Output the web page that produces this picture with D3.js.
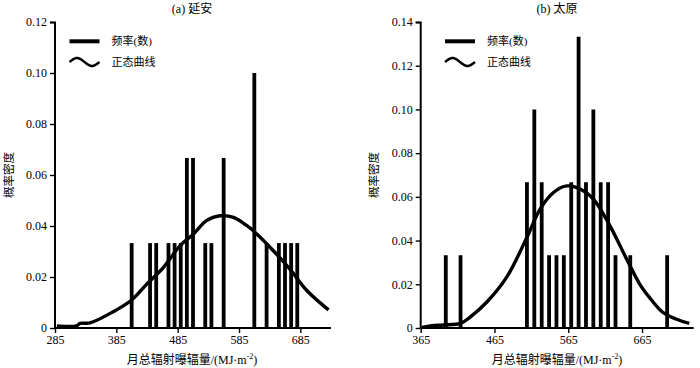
<!DOCTYPE html>
<html><head><meta charset="utf-8">
<script src="https://cdn.jsdelivr.net/npm/d3@7"></script>
<style>
body{margin:0;background:#fff;}
text{font-family:"Liberation Serif","Noto Sans CJK SC",serif;fill:#000;}
</style></head>
<body><svg id="c" width="700" height="368"></svg>
<script>
// ---- data ----
const titles = ["(a) 延安", "(b) 太原"];
const yLabel = "概率密度";
const legendLabels = ["频率(数)", "正态曲线"];

const aBarX = [410,440,450,470,480,490,500,510,530,540,560,610,630,650,660,670,680];
const aBarY = [0.0333,0.0333,0.0333,0.0333,0.0333,0.0333,0.0667,0.0667,0.0333,0.0333,0.0667,0.1,0.0333,0.0333,0.0333,0.0333,0.0333];
const aCurveX = [288,320,326,342,380,410,435,462,489,511,532,554,576,598,614,641,668,696,731];
const aCurveY = [0.0008,0.0008,0.0018,0.0020,0.0064,0.011,0.0173,0.0238,0.0323,0.0369,0.0421,0.044,0.0434,0.0401,0.0369,0.0303,0.0231,0.0146,0.0071];
const aXTicks = [285,385,485,585,685];
const aYTicks = [0,0.02,0.04,0.06,0.08,0.10,0.12];

const bBarX = [399,419,509,519,529,539,549,559,569,579,589,599,609,619,629,649,699];
const bBarY = [0.0333,0.0333,0.0667,0.1,0.0667,0.0333,0.0333,0.0333,0.0667,0.1333,0.0667,0.1,0.0667,0.0667,0.0333,0.0333,0.0333];
const bCurveX = [367,380,396,419,432,455,482,509,527,545,563,581,599,621,644,662,675,693,711,729];
const bCurveY = [0.0003,0.0011,0.0014,0.0021,0.005,0.012,0.0235,0.0415,0.0545,0.062,0.065,0.0636,0.059,0.0471,0.0316,0.02,0.014,0.0072,0.0041,0.0021];
const bXTicks = [365,465,565,665];
const bYTicks = [0,0.02,0.04,0.06,0.08,0.10,0.12,0.14];

const svg = d3.select("#c");

function panel(cfg){
  const g = svg.append("g");
  const x = d3.scaleLinear().domain(cfg.xd).range([cfg.x0, cfg.x1]);
  const y = d3.scaleLinear().domain(cfg.yd).range([328, 22]);

  // bars
  g.selectAll(".bar").data(cfg.bx).enter().append("line")
    .attr("x1", d=>x(d)).attr("x2", d=>x(d))
    .attr("y1", y(0)).attr("y2", (d,i)=>y(cfg.by[i]))
    .attr("stroke","#000").attr("stroke-width",3.8);

  // curve
  const pts = cfg.cx.map((d,i)=>[d,cfg.cy[i]]);
  g.append("path").datum(pts)
    .attr("d", d3.line().x(d=>x(d[0])).y(d=>y(d[1])).curve(d3.curveCatmullRom))
    .attr("fill","none").attr("stroke","#000").attr("stroke-width",3.4).attr("stroke-linejoin","round");

  // axes
  const ya = g.append("g").attr("transform",`translate(${cfg.x0},0)`)
    .call(d3.axisLeft(y).tickValues(cfg.yt).tickSize(5).tickPadding(3).tickFormat(d=> d===0?"0":d3.format(".2f")(d)));
  const xa = g.append("g").attr("transform",`translate(0,328)`)
    .call(d3.axisBottom(x).tickValues(cfg.xt).tickSize(5).tickPadding(2).tickFormat(d3.format("d")));
  [ya,xa].forEach(a=>{
    a.select(".domain").attr("stroke-width",2).attr("stroke","#000");
    a.selectAll(".tick line").attr("stroke-width",1.4).attr("stroke","#000");
    a.selectAll(".tick text").style("font-size","12px").style("font-family","Liberation Serif");
  });
  ya.select(".domain").attr("d",`M-5,22.5H0V328`);
  xa.select(".domain").attr("d",`M${cfg.x0},0H${cfg.x1}`);

  // title
  g.append("text").attr("x",cfg.tx).attr("y",13).attr("text-anchor","middle")
    .style("font-size","12px").text(cfg.title);
  // y label
  g.append("text").attr("transform",`translate(${cfg.lx},175) rotate(-90)`)
    .attr("text-anchor","middle").attr("dy","0.35em").style("font-size","11.5px").text(yLabel);
  // x label
  const xl = g.append("text").attr("x",cfg.tx).attr("y",364).attr("text-anchor","middle").style("font-size","12px");
  xl.append("tspan").text("月总辐射曝辐量/(MJ·m");
  xl.append("tspan").attr("dy",-5).style("font-size","8px").text("-2");
  xl.append("tspan").attr("dy",5).text(")");

  // legend
  const lx = cfg.legx;
  g.append("line").attr("x1",lx).attr("x2",lx+30).attr("y1",41.3).attr("y2",41.3)
    .attr("stroke","#000").attr("stroke-width",4);
  const wave = d3.range(0,31).map(i=>[lx+i, 62 - 4*Math.sin(i/30*2*Math.PI)]);
  g.append("path").datum(wave).attr("d",d3.line().curve(d3.curveBasis))
    .attr("fill","none").attr("stroke","#000").attr("stroke-width",2.5);
  g.append("text").attr("x",lx+42).attr("y",41.3).attr("dy","0.35em").style("font-size","11px").text(legendLabels[0]);
  g.append("text").attr("x",lx+42).attr("y",62).attr("dy","0.35em").style("font-size","11px").text(legendLabels[1]);
}

panel({xd:[285,735], x0:55, x1:331, yd:[0,0.12], bx:aBarX, by:aBarY, cx:aCurveX, cy:aCurveY,
  xt:aXTicks, yt:aYTicks, title:titles[0], tx:192, lx:9, legx:69.5});
panel({xd:[365,735], x0:420.7, x1:693.7, yd:[0,0.14], bx:bBarX, by:bBarY, cx:bCurveX, cy:bCurveY,
  xt:bXTicks, yt:bYTicks, title:titles[1], tx:557, lx:374, legx:445});
</script></body></html>
